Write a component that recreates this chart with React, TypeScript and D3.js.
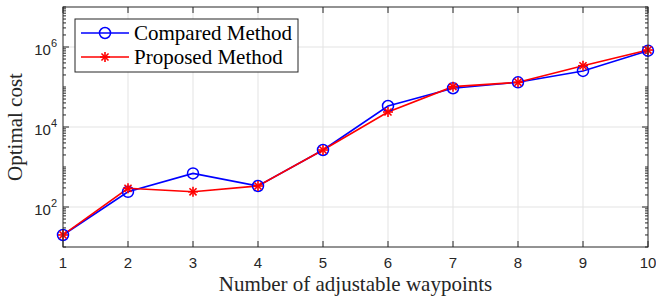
import React from "react";
import * as d3 from "d3";

const waypoints = [1, 2, 3, 4, 5, 6, 7, 8, 9, 10];
const comparedCost = [20, 240, 690, 335, 2660, 33500, 93000, 131000, 252000, 810000];
const proposedCost = [20, 293, 240, 335, 2660, 23700, 102000, 131000, 340000, 840000];
const yMajorTicks = [2, 4, 6];
const seriesNames = ["Compared Method", "Proposed Method"];

const W = 656;
const H = 297;
const margin = { top: 7, right: 8, bottom: 50, left: 63 };

const App: React.FC = () => {
  const x = d3
    .scaleLinear()
    .domain([1, 10])
    .range([margin.left, W - margin.right]);
  const y = d3
    .scaleLog()
    .domain([10, 1e7])
    .range([H - margin.bottom, margin.top]);

  const x0 = margin.left;
  const x1 = W - margin.right;
  const y0 = H - margin.bottom;
  const y1 = margin.top;

  // minor ticks of the log axis
  const minor: number[] = [];
  for (let e = 1; e < 7; e++) {
    for (let m = 1; m <= 9; m++) minor.push(m * Math.pow(10, e));
  }
  minor.push(1e7);

  const line = d3
    .line<number>()
    .x((_, i) => x(waypoints[i]))
    .y((d) => y(d));

  const tickFont = "'Liberation Sans', Arial, sans-serif";
  const serif = "'Liberation Serif', 'Times New Roman', serif";

  const star = (cx: number, cy: number, r: number, key: string) => (
    <g key={key} stroke="#ff0000" strokeWidth={1.6}>
      {[0, 45, 90, 135].map((a) => {
        const rad = (a * Math.PI) / 180;
        return (
          <line
            key={a}
            x1={cx - r * Math.cos(rad)}
            y1={cy - r * Math.sin(rad)}
            x2={cx + r * Math.cos(rad)}
            y2={cy + r * Math.sin(rad)}
          />
        );
      })}
    </g>
  );

  return (
    <svg
      width={W}
      height={H}
      style={{ position: "absolute", left: 0, top: 0, background: "#fff" }}
    >
      {/* grid */}
      {waypoints.slice(1, -1).map((w) => (
        <line key={"gx" + w} x1={x(w)} x2={x(w)} y1={y0} y2={y1} stroke="#e3e3e3" />
      ))}
      {yMajorTicks.map((e) => (
        <line
          key={"gy" + e}
          x1={x0}
          x2={x1}
          y1={y(Math.pow(10, e))}
          y2={y(Math.pow(10, e))}
          stroke="#e3e3e3"
        />
      ))}

      {/* ticks */}
      {waypoints.map((w) => (
        <g key={"tx" + w} stroke="#262626">
          <line x1={x(w)} x2={x(w)} y1={y0} y2={y0 - 6} />
          <line x1={x(w)} x2={x(w)} y1={y1} y2={y1 + 6} />
        </g>
      ))}
      {minor.map((v, i) => {
        const major = yMajorTicks.some((e) => Math.abs(v - Math.pow(10, e)) < 1e-6);
        const len = major ? 6 : 3;
        return (
          <g key={"ty" + i} stroke="#262626">
            <line x1={x0} x2={x0 + len} y1={y(v)} y2={y(v)} />
            <line x1={x1} x2={x1 - len} y1={y(v)} y2={y(v)} />
          </g>
        );
      })}

      {/* series */}
      <path d={line(comparedCost) || ""} fill="none" stroke="#0000ff" strokeWidth={1.6} />
      <path d={line(proposedCost) || ""} fill="none" stroke="#ff0000" strokeWidth={1.6} />
      {comparedCost.map((v, i) => (
        <circle
          key={"c" + i}
          cx={x(waypoints[i])}
          cy={y(v)}
          r={5.5}
          fill="none"
          stroke="#0000ff"
          strokeWidth={1.5}
        />
      ))}
      {proposedCost.map((v, i) => star(x(waypoints[i]), y(v), 5, "s" + i))}

      {/* axes box */}
      <rect
        x={x0}
        y={y1}
        width={x1 - x0}
        height={y0 - y1}
        fill="none"
        stroke="#262626"
        strokeWidth={1}
      />

      {/* tick labels */}
      {waypoints.map((w) => (
        <text
          key={"lx" + w}
          x={x(w)}
          y={y0 + 21}
          textAnchor="middle"
          fontFamily={tickFont}
          fontSize={15}
          fill="#262626"
        >
          {w}
        </text>
      ))}
      {yMajorTicks.map((e) => (
        <text
          key={"ly" + e}
          x={x0 - 6}
          y={y(Math.pow(10, e)) + 8}
          textAnchor="end"
          fontFamily={tickFont}
          fontSize={15}
          fill="#262626"
        >
          10
          <tspan fontSize={11} dy={-8}>
            {e}
          </tspan>
        </text>
      ))}

      {/* axis titles */}
      <text
        x={(x0 + x1) / 2}
        y={H - 6}
        textAnchor="middle"
        fontFamily={serif}
        fontSize={21}
        fill="#262626"
      >
        Number of adjustable waypoints
      </text>
      <text
        transform={`translate(22,${(y0 + y1) / 2}) rotate(-90)`}
        textAnchor="middle"
        fontFamily={serif}
        fontSize={21}
        fill="#262626"
      >
        Optimal cost
      </text>

      {/* legend */}
      <rect x={75} y={19} width={223} height={53} fill="#fff" stroke="#262626" strokeWidth={1} />
      {seriesNames.map((name, i) => {
        const ly = 33 + i * 24;
        const color = i === 0 ? "#0000ff" : "#ff0000";
        return (
          <g key={name}>
            <line x1={81} x2={129} y1={ly} y2={ly} stroke={color} strokeWidth={1.6} />
            {i === 0 ? (
              <circle cx={105} cy={ly} r={5.5} fill="none" stroke={color} strokeWidth={1.5} />
            ) : (
              star(105, ly, 5, "ls")
            )}
            <text
              x={134}
              y={ly + 7}
              fontFamily={serif}
              fontSize={21}
              fill="#000"
            >
              {name}
            </text>
          </g>
        );
      })}
    </svg>
  );
};

export default App;
